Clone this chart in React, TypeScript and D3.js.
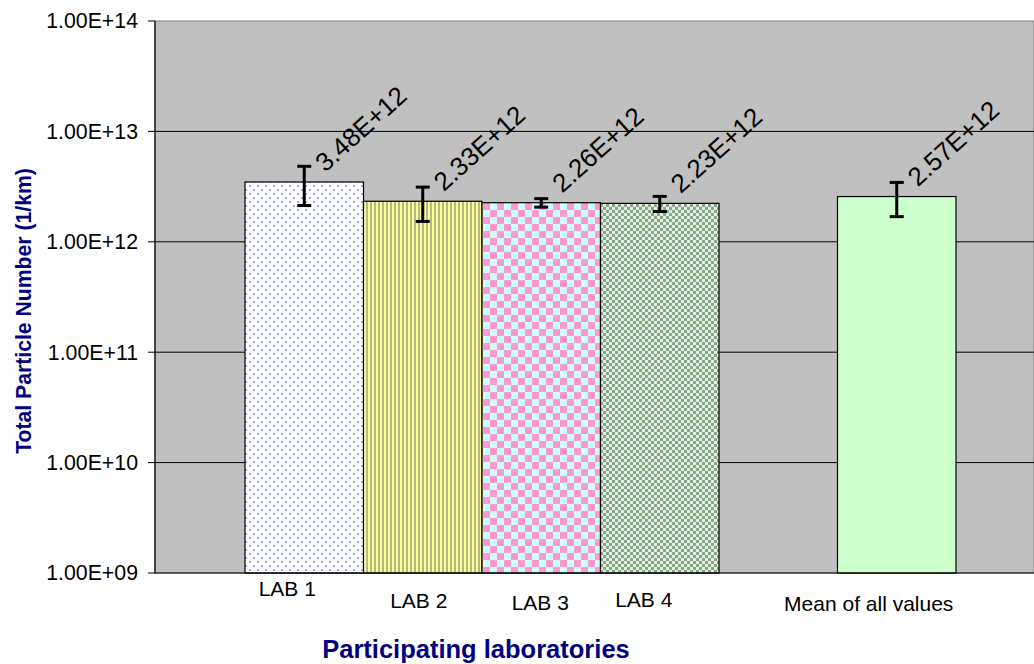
import React from 'react';
import * as d3 from 'd3';

const WIDTH = 1034;
const HEIGHT = 664;

// chart data
const labs = ['LAB 1', 'LAB 2', 'LAB 3', 'LAB 4', 'Mean of all values'];
const values = [3.48e12, 2.33e12, 2.26e12, 2.23e12, 2.57e12];
const errors = [1.35e12, 0.8e12, 0.2e12, 0.35e12, 0.88e12];
const yTicks = [1e9, 1e10, 1e11, 1e12, 1e13, 1e14];
const fills = ['url(#pDots)', 'url(#pStripes)', 'url(#pCheck)', 'url(#pFine)', '#ccffcc'];

// Excel-ish staggered category labels (dx from band centre, baseline y)
const labelDx = [-17, -4, -1, -16, -28];
const labelY = [596, 608, 610, 607, 611];

const FONT = '"Liberation Sans", Arial, sans-serif';
const NAVY = '#000080';

const plot = { left: 155, top: 21, right: 1034, bottom: 573 };

const fmtTick = (d: number) => `1.00E+${String(Math.round(Math.log10(d))).padStart(2, '0')}`;
const fmtVal = (v: number) => {
  const e = Math.floor(Math.log10(v));
  return `${(v / Math.pow(10, e)).toFixed(2)}E+${e}`;
};

const App: React.FC = () => {
  const y = d3.scaleLog().domain([1e9, 1e14]).range([plot.bottom, plot.top]);
  // a spacer slot keeps the mean bar apart from the labs
  const x = d3
    .scaleBand<string>()
    .domain([...labs.slice(0, 4), '__gap', labs[4]])
    .range([245, 956])
    .padding(0);
  const bw = x.bandwidth();

  return (
    <svg
      width={WIDTH}
      height={HEIGHT}
      style={{ position: 'absolute', left: 0, top: 0, background: '#fff' }}
      fontFamily={FONT}
    >
      <defs>
        <pattern id="pDots" width={8} height={8} patternUnits="userSpaceOnUse">
          <rect width={8} height={8} fill="#fff" />
          <rect x={1} y={1} width={2} height={2} fill="#a0a0ff" />
          <rect x={5} y={5} width={2} height={2} fill="#a0a0ff" />
        </pattern>
        <pattern id="pStripes" width={4} height={4} patternUnits="userSpaceOnUse">
          <rect width={4} height={4} fill="#ffff99" />
          <rect x={2} width={2} height={4} fill="#b8b888" />
        </pattern>
        <pattern id="pCheck" width={14} height={14} patternUnits="userSpaceOnUse">
          <rect width={14} height={14} fill="#ccffff" />
          <rect width={7} height={7} fill="#ff99cc" />
          <rect x={7} y={7} width={7} height={7} fill="#ff99cc" />
        </pattern>
        <pattern id="pFine" width={6} height={6} patternUnits="userSpaceOnUse">
          <rect width={6} height={6} fill="#ccffcc" />
          <rect width={3} height={3} fill="#999999" />
          <rect x={3} y={3} width={3} height={3} fill="#999999" />
        </pattern>
      </defs>

      {/* plot background */}
      <rect
        x={plot.left}
        y={plot.top}
        width={plot.right - plot.left}
        height={plot.bottom - plot.top}
        fill="#c0c0c0"
        stroke="#808080"
        strokeWidth={1}
      />

      {/* gridlines + y ticks */}
      {yTicks.map((t) => (
        <g key={t}>
          {t > 1e9 && t < 1e14 && (
            <line x1={plot.left} x2={plot.right} y1={y(t)} y2={y(t)} stroke="#000" strokeWidth={1} />
          )}
          <line x1={plot.left - 7} x2={plot.left} y1={y(t)} y2={y(t)} stroke="#000" />
          <text x={138} y={y(t)} dy="0.35em" textAnchor="end" fontSize={21.3} fill="#000">
            {fmtTick(t)}
          </text>
        </g>
      ))}

      {/* bars */}
      {labs.map((lab, i) => {
        const x0 = x(lab)!;
        const top = y(values[i]);
        return (
          <rect
            key={lab}
            x={x0}
            y={top}
            width={bw}
            height={plot.bottom - top}
            fill={fills[i]}
            stroke="#000"
            strokeWidth={1.2}
          />
        );
      })}

      {/* axes */}
      <line x1={plot.left} x2={plot.left} y1={plot.top} y2={plot.bottom} stroke="#000" strokeWidth={1.2} />
      <line x1={plot.left} x2={plot.right} y1={plot.bottom} y2={plot.bottom} stroke="#000" strokeWidth={1.2} />

      {/* error bars */}
      {labs.map((lab, i) => {
        const cx = x(lab)! + bw / 2;
        const hi = y(values[i] + errors[i]);
        const lo = y(values[i] - errors[i]);
        return (
          <g key={lab} stroke="#000" strokeWidth={3}>
            <line x1={cx} x2={cx} y1={hi} y2={lo} />
            <line x1={cx - 7} x2={cx + 7} y1={hi} y2={hi} />
            <line x1={cx - 7} x2={cx + 7} y1={lo} y2={lo} />
          </g>
        );
      })}

      {/* value labels */}
      {labs.map((lab, i) => {
        const lx = x(lab)! + bw / 2 + 21;
        const ly = y(values[i]) - 9;
        return (
          <text
            key={lab}
            transform={`translate(${lx},${ly}) rotate(-42)`}
            fontSize={26}
            fill="#000"
          >
            {fmtVal(values[i])}
          </text>
        );
      })}

      {/* category labels */}
      {labs.map((lab, i) => (
        <text
          key={lab}
          x={x(lab)! + bw / 2 + labelDx[i]}
          y={labelY[i]}
          textAnchor="middle"
          fontSize={21}
          fill="#000"
        >
          {lab}
        </text>
      ))}

      {/* axis titles */}
      <text
        transform="translate(31,311) rotate(-90)"
        textAnchor="middle"
        fontSize={21.2}
        fontWeight="bold"
        fill={NAVY}
      >
        Total Particle Number (1/km)
      </text>
      <text x={476} y={658} textAnchor="middle" fontSize={25.5} fontWeight="bold" fill={NAVY}>
        Participating laboratories
      </text>
    </svg>
  );
};

export default App;
